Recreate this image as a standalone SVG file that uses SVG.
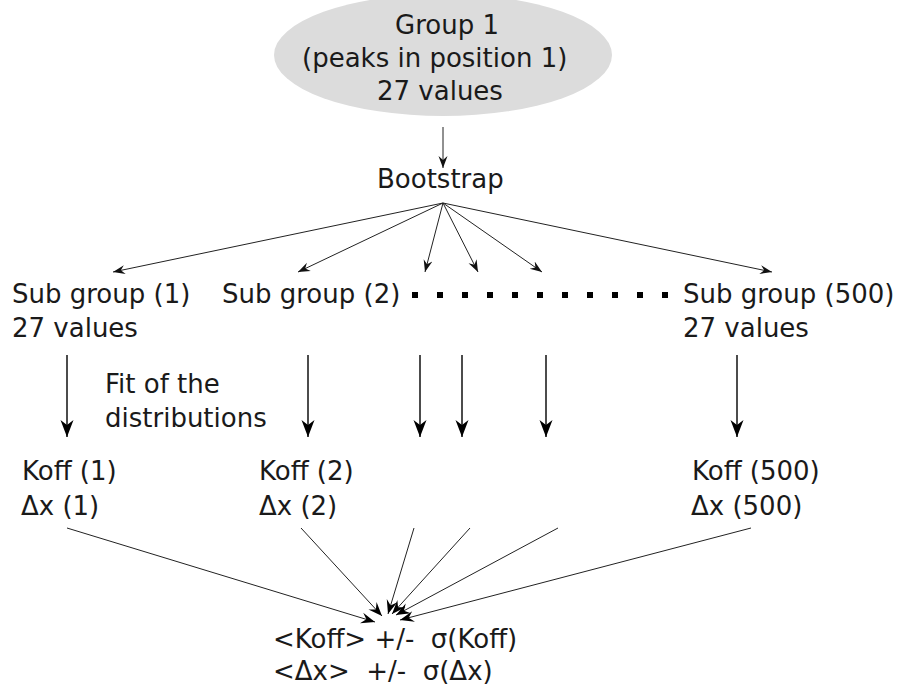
<svg xmlns="http://www.w3.org/2000/svg" width="909" height="690" viewBox="0 0 909 690">
<style>
text { font-family: "DejaVu Sans", "Liberation Sans", sans-serif; font-size: 26px; fill: #1a1a1a; white-space: pre; }
.thin { stroke: #222; stroke-width: 1; fill: none; }
.thick { stroke: #111; stroke-width: 1.5; fill: none; }
</style>
<defs>
<marker id="ahSmall" viewBox="-12 -6 13 12" refX="0" refY="0" markerWidth="13" markerHeight="12" markerUnits="userSpaceOnUse" orient="auto">
<path d="M0,0 L-12,-4.5 L-8,0 L-12,4.5 Z" fill="#111"/>
</marker>
<marker id="ahBig" viewBox="-17 -8 18 16" refX="0" refY="0" markerWidth="18" markerHeight="16" markerUnits="userSpaceOnUse" orient="auto">
<path d="M0,0 L-17,-6.5 L-12,0 L-17,6.5 Z" fill="#000"/>
</marker>
<marker id="ahMid" viewBox="-14 -7 15 14" refX="0" refY="0" markerWidth="15" markerHeight="14" markerUnits="userSpaceOnUse" orient="auto">
<path d="M0,0 L-14,-5.5 L-9,0 L-14,5.5 Z" fill="#000"/>
</marker>
</defs>

<g id="group1">
<ellipse cx="443" cy="55" rx="169" ry="61" fill="#dcdcdc"/>
<text x="395" y="34">Group 1</text>
<text x="302" y="67">(peaks in position 1)</text>
<text x="377" y="100">27 values</text>
</g>

<g id="bootstrap">
<text x="377" y="188">Bootstrap</text>
</g>

<g id="subgroup1">
<text x="12" y="303">Sub group (1)</text>
<text x="12" y="337">27 values</text>
</g>

<g id="subgroup2">
<text x="222" y="303">Sub group (2)</text>
</g>

<g id="subgroup500">
<text x="683" y="303">Sub group (500)</text>
<text x="683" y="337">27 values</text>
</g>

<g id="fit-label">
<text x="105" y="393">Fit of the</text>
<text x="105" y="427">distributions</text>
</g>

<g id="result1">
<text x="22" y="480">Koff (1)</text>
<text x="21" y="515">Δx (1)</text>
</g>

<g id="result2">
<text x="259" y="480">Koff (2)</text>
<text x="259" y="515">Δx (2)</text>
</g>

<g id="result500">
<text x="692" y="480">Koff (500)</text>
<text x="691" y="515">Δx (500)</text>
</g>

<g id="summary">
<text x="273" y="648">&lt;Koff&gt; +/-  σ(Koff)</text>
<text x="273" y="680">&lt;Δx&gt;  +/-  σ(Δx)</text>
</g>

<g id="connectors">
<line class="thin" x1="443" y1="127" x2="443" y2="168" marker-end="url(#ahSmall)"/>
<line class="thin" x1="443" y1="203" x2="113" y2="272" marker-end="url(#ahSmall)"/>
<line class="thin" x1="443" y1="203" x2="298" y2="272" marker-end="url(#ahSmall)"/>
<line class="thin" x1="443" y1="203" x2="425" y2="272" marker-end="url(#ahSmall)"/>
<line class="thin" x1="443" y1="203" x2="478" y2="272" marker-end="url(#ahSmall)"/>
<line class="thin" x1="443" y1="203" x2="542" y2="272" marker-end="url(#ahSmall)"/>
<line class="thin" x1="443" y1="203" x2="772" y2="272" marker-end="url(#ahSmall)"/>
<line x1="412" y1="295" x2="672" y2="295" stroke="#000" stroke-width="6" stroke-dasharray="6 19"/>
<line class="thick" x1="67" y1="355" x2="67" y2="437" marker-end="url(#ahBig)"/>
<line class="thick" x1="308" y1="355" x2="308" y2="437" marker-end="url(#ahBig)"/>
<line class="thick" x1="420" y1="355" x2="420" y2="437" marker-end="url(#ahBig)"/>
<line class="thick" x1="462" y1="355" x2="462" y2="437" marker-end="url(#ahBig)"/>
<line class="thick" x1="546" y1="355" x2="546" y2="437" marker-end="url(#ahBig)"/>
<line class="thick" x1="737" y1="355" x2="737" y2="437" marker-end="url(#ahBig)"/>
<line class="thin" x1="67" y1="528" x2="375" y2="622" marker-end="url(#ahMid)"/>
<line class="thin" x1="301" y1="528" x2="382" y2="616" marker-end="url(#ahMid)"/>
<line class="thin" x1="414" y1="528" x2="388" y2="614" marker-end="url(#ahMid)"/>
<line class="thin" x1="470" y1="528" x2="392" y2="614" marker-end="url(#ahMid)"/>
<line class="thin" x1="558" y1="528" x2="396" y2="615" marker-end="url(#ahMid)"/>
<line class="thin" x1="751" y1="528" x2="400" y2="620" marker-end="url(#ahMid)"/>
</g>
</svg>
